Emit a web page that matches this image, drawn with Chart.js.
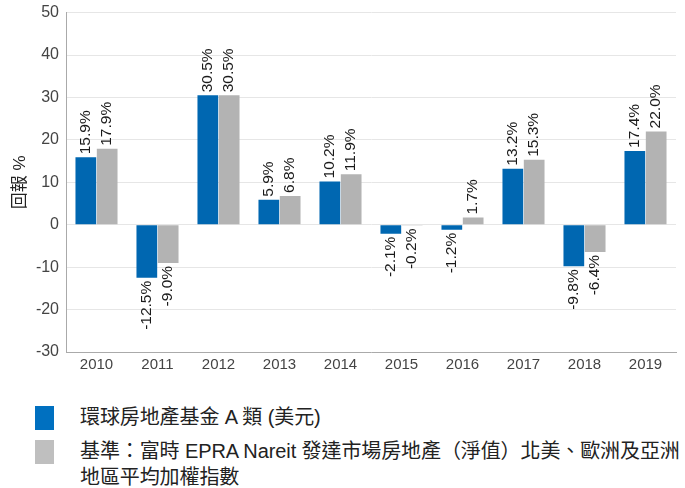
<!DOCTYPE html>
<html lang="zh-Hant">
<head>
    <meta charset="UTF-8" />
    <title>回報</title>
    <script src="https://cdn.jsdelivr.net/npm/chart.js"></script>
    <style>
        * { box-sizing: border-box; margin: 0; padding: 0; }
        body {
            width: 685px; height: 488px; background: #fff; overflow: hidden;
            font-family: 'Liberation Sans', Arial, 'Noto Sans CJK TC', sans-serif;
            color: #222; position: relative;
        }
        #wrap { position: absolute; left: 0; top: -4px; width: 685px; height: 382px; }
        .legend { position: absolute; left: 35px; top: 404px; font-size: 20px; }
        .item { display: flex; align-items: flex-start; margin-bottom: 8px; }
        .sw { width: 19px; height: 24px; flex: none; margin-right: 26px; margin-top: 2px; }
        .txt { line-height: 26px; white-space: nowrap; letter-spacing: -0.1px; }
    </style>
</head>
<body>
    <div id="wrap"><canvas id="c"></canvas></div>
    <div class="legend">
        <div class="item"><div class="sw" style="background:#0070c0"></div><div class="txt">環球房地產基金 A 類 (美元)</div></div>
        <div class="item"><div class="sw" style="background:#bfbfbf"></div><div class="txt">基準：富時 EPRA Nareit 發達市場房地產（淨值）北美、歐洲及亞洲<br>地區平均加權指數</div></div>
    </div>
    <script>
        const years = ['2010', '2011', '2012', '2013', '2014', '2015', '2016', '2017', '2018', '2019'];
        const fund = [15.9, -12.5, 30.5, 5.9, 10.2, -2.1, -1.2, 13.2, -9.8, 17.4];
        const benchmark = [17.9, -9.0, 30.5, 6.8, 11.9, -0.2, 1.7, 15.3, -6.4, 22.0];
        const yTicks = [-30, -20, -10, 0, 10, 20, 30, 40, 50];

        // 柱上的旋轉數值標籤
        const valueLabels = {
            id: 'valueLabels',
            afterDatasetsDraw(chart) {
                const ctx = chart.ctx;
                ctx.save();
                ctx.font = '15.5px "Liberation Sans", Arial, sans-serif';
                ctx.fillStyle = '#1a1a1a';
                ctx.textBaseline = 'middle';
                chart.data.datasets.forEach((ds, i) => {
                    chart.getDatasetMeta(i).data.forEach((bar, j) => {
                        const v = ds.data[j];
                        ctx.save();
                        ctx.translate(bar.x, bar.y);
                        ctx.rotate(-Math.PI / 2);
                        if (v >= 0) {
                            ctx.textAlign = 'left';
                            ctx.fillText(v.toFixed(1) + '%', 3, 0);
                        } else {
                            ctx.textAlign = 'right';
                            ctx.fillText(v.toFixed(1) + '%', -3, 0);
                        }
                        ctx.restore();
                    });
                });
                ctx.restore();
            }
        };

        new Chart(document.getElementById('c'), {
            type: 'bar',
            data: {
                labels: years,
                datasets: [
                    { label: 'fund', data: fund, backgroundColor: '#0067b1' },
                    { label: 'benchmark', data: benchmark, backgroundColor: '#b3b3b3' }
                ]
            },
            options: {
                responsive: true,
                maintainAspectRatio: false,
                animation: false,
                datasets: { bar: { categoryPercentage: 0.7, barPercentage: 0.97 } },
                layout: { padding: { left: 6, right: 9, top: 0, bottom: 0 } },
                plugins: { legend: { display: false }, tooltip: { enabled: false } },
                scales: {
                    x: {
                        grid: { display: false, drawTicks: false },
                        border: { color: '#aaa' },
                        ticks: { color: '#444', font: { size: 15, family: '"Liberation Sans", Arial' }, padding: 4 }
                    },
                    y: {
                        min: -30, max: 50,
                        afterBuildTicks(s) { s.ticks = yTicks.map(v => ({ value: v })); },
                        afterFit(s) { s.width = 60; },
                        grid: { color: '#e6e6e6', drawTicks: false },
                        border: { color: '#aaa' },
                        ticks: { color: '#444', font: { size: 16, family: '"Liberation Sans", Arial' }, padding: 7 },
                        title: { display: true, text: '回報 %', color: '#222', font: { size: 17, family: '"Liberation Sans", "Noto Sans CJK TC"' }, padding: 4 }
                    }
                }
            },
            plugins: [valueLabels]
        });
    </script>
</body>
</html>
